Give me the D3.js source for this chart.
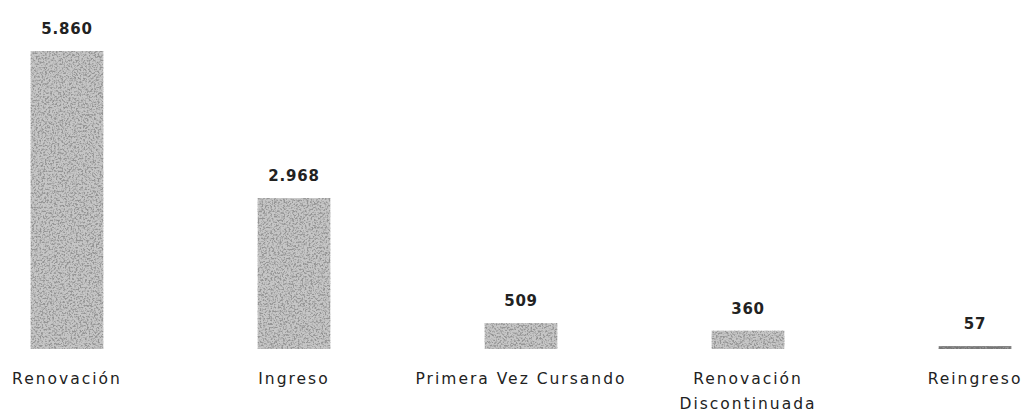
<!DOCTYPE html>
<html>
<head>
<meta charset="utf-8">
<script src="https://cdn.jsdelivr.net/npm/d3@7"></script>
<style>
  body { margin: 0; background: #fff; }
  svg { display: block; }
  .val { font-family: "DejaVu Sans", sans-serif; font-size: 15px; font-weight: bold; fill: #222; letter-spacing: 0.8px; }
  .cat { font-family: "DejaVu Sans", sans-serif; font-size: 15.5px; fill: #222; letter-spacing: 2px; }
</style>
</head>
<body>
<div id="chart"></div>
<script>
// datos
var categories = ["Renovación", "Ingreso", "Primera Vez Cursando", "Renovación Discontinuada", "Reingreso"];
var values = [5860, 2968, 509, 360, 57];
var valueLabels = ["5.860", "2.968", "509", "360", "57"];
// etiquetas partidas en lineas
var catLines = [["Renovación"], ["Ingreso"], ["Primera Vez Cursando"], ["Renovación", "Discontinuada"], ["Reingreso"]];

var W = 1026, H = 417;
var baseY = 349, topY = 51;

var svg = d3.select("#chart").append("svg").attr("width", W).attr("height", H);

// textura gris tipo fotocopia
var defs = svg.append("defs");
var f = defs.append("filter").attr("id", "grain")
  .attr("filterUnits", "userSpaceOnUse").attr("x", 0).attr("y", 0).attr("width", W).attr("height", H);
f.append("feTurbulence").attr("type", "fractalNoise").attr("baseFrequency", 0.55).attr("numOctaves", 3).attr("seed", 5).attr("result", "n");
f.append("feColorMatrix").attr("in", "n").attr("type", "matrix")
  .attr("values", "0 0 0 0 0.3  0 0 0 0 0.3  0 0 0 0 0.3  4 0 0 0 -1.75").attr("result", "d");
f.append("feComposite").attr("in", "d").attr("in2", "SourceGraphic").attr("operator", "in").attr("result", "dd");
f.append("feMerge").call(function(m) {
  m.append("feMergeNode").attr("in", "SourceGraphic");
  m.append("feMergeNode").attr("in", "dd");
});

var x = d3.scaleBand().domain(categories).range([0, 1042]).paddingInner(0.68).paddingOuter(0.135);
var y = d3.scaleLinear().domain([0, 5860]).range([baseY, topY]);

var g = svg.append("g");

g.selectAll("rect.bar").data(values).enter().append("rect")
  .attr("class", "bar")
  .attr("x", function(d, i) { return x(categories[i]); })
  .attr("y", function(d) { return y(d); })
  .attr("width", x.bandwidth())
  .attr("height", function(d) { return Math.max(2, baseY - y(d)); })
  .attr("fill", function(d) { return d < 100 ? "#777" : "#c6c6c6"; })
  .attr("filter", "url(#grain)");

g.selectAll("text.val").data(values).enter().append("text")
  .attr("class", "val")
  .attr("text-anchor", "middle")
  .attr("x", function(d, i) { return x(categories[i]) + x.bandwidth() / 2; })
  .attr("y", function(d) { return y(d) - 17; })
  .text(function(d, i) { return valueLabels[i]; });

var cats = g.selectAll("text.cat").data(catLines).enter().append("text")
  .attr("class", "cat")
  .attr("text-anchor", "middle")
  .attr("x", function(d, i) { return x(categories[i]) + x.bandwidth() / 2; })
  .attr("y", 384);
cats.selectAll("tspan").data(function(d) { return d; }).enter().append("tspan")
  .attr("x", function() { return d3.select(this.parentNode).attr("x"); })
  .attr("dy", function(d, j) { return j === 0 ? 0 : 25; })
  .text(function(d) { return d; });
</script>
</body>
</html>
